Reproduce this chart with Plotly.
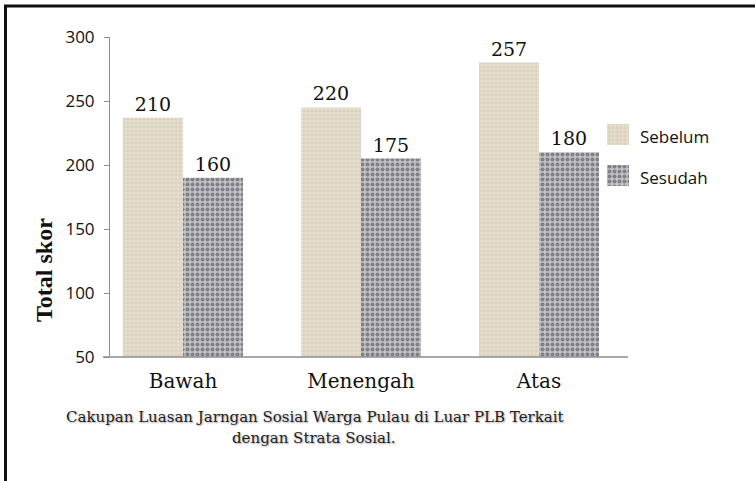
import plotly.graph_objects as go

categories = ["Bawah", "Menengah", "Atas"]
series_names = ["Sebelum", "Sesudah"]
# bar heights as read against the axis
sebelum_height = [237, 245, 280]
sesudah_height = [190, 205, 210]
# printed data labels
sebelum_labels = ["210", "220", "257"]
sesudah_labels = ["160", "175", "180"]
y_ticks = [50, 100, 150, 200, 250, 300]
y_title = "Total skor"
caption_line1 = "Cakupan Luasan Jarngan Sosial Warga Pulau di Luar PLB Terkait"
caption_line2 = "dengan Strata Sosial."
legend_slots = [1, 0]
legend_fill = [1, 1]

W, H = 755, 481
L, R, T, B = 110, 90, 37, 124
pw, ph = W - L - R, H - T - B


def px_x(px):
    return (px - L) / pw


def px_y(py):
    return (H - B - py) / ph


label_font = dict(family="DejaVu Serif", size=19, color="#111111")

seb_pattern = dict(shape="+", size=4, solidity=0.25, fgcolor="#cdc1aa",
                   bgcolor="#e7dfcf", fillmode="replace")
ses_pattern = dict(shape=".", size=5, solidity=0.5, fgcolor="#808088",
                   bgcolor="#c2c2c7", fillmode="replace")

fig = go.Figure()
fig.add_trace(go.Bar(
    name=series_names[0], x=categories, y=sebelum_height,
    text=sebelum_labels, textposition="outside", textfont=label_font,
    cliponaxis=False, showlegend=False,
    marker=dict(color="#e4dac8", line=dict(width=0), pattern=seb_pattern),
))
fig.add_trace(go.Bar(
    name=series_names[1], x=categories, y=sesudah_height,
    text=sesudah_labels, textposition="outside", textfont=label_font,
    cliponaxis=False, showlegend=False,
    marker=dict(color="#b2b2b8", line=dict(width=0), pattern=ses_pattern),
))
# legend swatches
for i, (nm, pat, col) in enumerate(zip(series_names, [seb_pattern, ses_pattern],
                                       ["#e4dac8", "#b2b2b8"])):
    fig.add_trace(go.Bar(
        name=nm, x=[legend_fill[i]], y=[legend_slots[i]], orientation="h",
        width=0.51, offset=-0.255, xaxis="x2", yaxis="y2", showlegend=False,
        hoverinfo="skip",
        marker=dict(color=col, line=dict(width=0), pattern=pat),
    ))

grey = "#8c8c8c"
shapes = [
    dict(type="line", xref="paper", yref="paper", x0=px_x(103), x1=px_x(628),
         y0=0, y1=0, line=dict(color=grey, width=1.5)),
    dict(type="line", xref="paper", yref="paper", x0=px_x(4), x1=px_x(755),
         y0=px_y(6), y1=px_y(6), line=dict(color="#111111", width=3)),
    dict(type="line", xref="paper", yref="paper", x0=px_x(5.5), x1=px_x(5.5),
         y0=px_y(5), y1=px_y(481), line=dict(color="#111111", width=3)),
]

cap_font = dict(family="DejaVu Serif", size=15, color="#222222",
                shadow="1px 1px 2px #a5a5a5")
legend_font = dict(family="Open Sans", size=17, color="#111111")
annotations = [
    dict(text="<b>" + y_title + "</b>", xref="paper", yref="paper",
         x=px_x(44), y=px_y(270), textangle=-90, showarrow=False,
         xanchor="center", yanchor="middle",
         font=dict(family="Liberation Serif", size=24, color="#111111")),
    dict(text=caption_line1, xref="paper", yref="paper", x=px_x(315),
         y=px_y(417), showarrow=False, xanchor="center", yanchor="middle",
         font=cap_font),
    dict(text=caption_line2, xref="paper", yref="paper", x=px_x(314),
         y=px_y(438), showarrow=False, xanchor="center", yanchor="middle",
         font=cap_font),
    dict(text=series_names[0], xref="paper", yref="paper", x=px_x(638),
         y=px_y(136), showarrow=False, xanchor="left", yanchor="middle",
         font=legend_font),
    dict(text=series_names[1], xref="paper", yref="paper", x=px_x(638),
         y=px_y(177), showarrow=False, xanchor="left", yanchor="middle",
         font=legend_font),
]

fig.update_layout(
    width=W, height=H,
    margin=dict(l=L, r=R, t=T, b=B, pad=0),
    paper_bgcolor="white", plot_bgcolor="white",
    barmode="group", bargap=0.326, bargroupgap=0,
    showlegend=False,
    xaxis=dict(domain=[0, px_x(628)], range=[-0.41, 2.5], showline=False,
               showgrid=False, zeroline=False, ticks="", ticklabelstandoff=10,
               tickfont=dict(family="DejaVu Serif", size=20, color="#111111")),
    yaxis=dict(range=[50, 300], tickvals=y_ticks, showline=True,
               linecolor=grey, linewidth=1, ticks="outside", ticklen=5,
               tickcolor=grey, showgrid=False, zeroline=False,
               ticklabelstandoff=6,
               tickfont=dict(family="Open Sans", size=17, color="#111111")),
    xaxis2=dict(domain=[px_x(607), px_x(629)], range=[0, 1], visible=False,
                anchor="y2", fixedrange=True),
    yaxis2=dict(domain=[px_y(196), px_y(114)], range=[-0.5, 1.5],
                visible=False, anchor="x2", fixedrange=True),
    shapes=shapes, annotations=annotations,
)

fig.write_html("out.html", config={"displayModeBar": False},
               post_script="document.body.style.margin='0';")
